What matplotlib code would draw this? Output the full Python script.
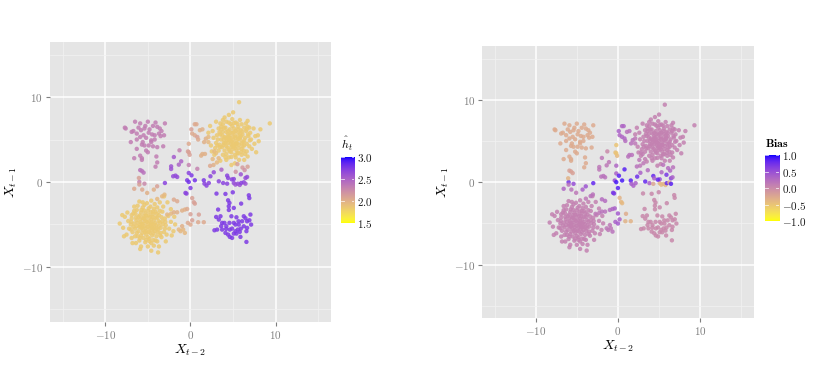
import numpy as np
import matplotlib
matplotlib.use("Agg")
import matplotlib.pyplot as plt
from matplotlib.colors import ListedColormap, Normalize

plt.rcParams['mathtext.fontset'] = 'cm'
plt.rcParams['font.family'] = ['cmr10', 'DejaVu Serif']
plt.rcParams['axes.unicode_minus'] = False

# ---------------- data ----------------
bottom_left = [
    (-5.0,-5.0),(-4.6,-4.8),(-5.4,-5.2),(-4.8,-5.5),(-5.3,-4.6),(-4.5,-5.3),(-5.7,-4.9),(-4.3,-4.5),
    (-5.1,-4.2),(-4.7,-4.1),(-5.6,-5.6),(-4.9,-5.9),(-4.2,-5.8),(-5.9,-4.4),(-5.5,-4.0),(-4.0,-5.1),
    (-3.9,-4.2),(-6.0,-5.3),(-6.2,-4.8),(-5.2,-6.2),(-4.5,-6.3),(-3.8,-5.6),(-4.4,-3.8),(-5.3,-3.7),
    (-6.1,-5.8),(-5.8,-6.3),(-3.6,-4.8),(-6.4,-4.2),(-4.1,-3.5),(-5.0,-3.4),(-3.5,-5.4),(-6.5,-5.5),
    (-4.8,-6.7),(-5.5,-6.6),(-4.0,-6.4),(-5.8,-3.6),(-3.7,-3.9),(-6.6,-4.9),(-4.6,-4.4),(-5.2,-5.8),
    (-4.3,-5.0),(-5.6,-4.3),(-4.9,-3.9),(-5.9,-5.1),(-5.1,-4.7),(-4.4,-5.5),(-5.7,-5.3),(-4.7,-5.1),
    (-4.85,-4.6),(-5.25,-5.45),(-4.55,-5.65),(-5.45,-4.35),(-4.15,-4.85),(-5.85,-4.75),(-5.0,-6.5),
    (-4.35,-6.05),(-5.65,-6.0),(-6.3,-5.2),(-6.1,-4.1),(-5.2,-3.95),(-4.45,-4.1),(-3.75,-4.6),
    (-3.85,-5.95),(-4.1,-4.2),(-5.45,-3.35),(-4.65,-3.55),(-3.95,-3.75),(-3.4,-4.15),(-3.25,-5.0),
    (-3.55,-6.3),(-4.35,-6.85),(-5.2,-6.85),(-5.9,-6.6),(-6.7,-5.25),(-6.95,-4.7),(-6.45,-3.75),
    (-5.75,-3.3),(-4.3,-3.15),(-3.6,-3.4),(-2.95,-4.7),(-3.0,-5.5),(-4.8,-7.0),(-6.2,-6.4),
    (-7.0,-5.6),(-6.9,-3.9),(-4.9,-3.1),(-5.0,-5.3),(-4.55,-4.95),(-5.5,-4.9),(-4.25,-5.4),
    (-5.75,-5.45),(-4.75,-6.0),(-5.35,-5.9),(-4.0,-5.5),(-6.35,-4.5),(-5.95,-3.95),(-3.7,-5.2),
    (-4.4,-3.5),
    (-7.0,-5.0),(-6.9,-4.3),(-6.8,-5.9),(-6.7,-3.7),(-6.3,-3.3),(-5.6,-3.0),(-4.7,-2.9),(-3.9,-3.0),
    (-3.3,-3.5),(-3.0,-4.3),(-2.9,-5.1),(-3.1,-5.9),(-3.4,-6.5),(-3.9,-7.0),(-4.6,-7.2),(-5.3,-7.1),
    (-6.0,-6.9),(-6.5,-6.4),(-7.2,-5.5),(-7.3,-4.6),(-6.2,-2.8),(-4.2,-2.6),(-3.2,-2.9),(-2.6,-4.0),
    (-2.5,-5.5),(-2.8,-6.2),(-4.3,-7.5),(-5.0,-7.6),(-5.8,-7.6),(-6.9,-6.6),(-7.5,-6.2),(-7.7,-4.1),
    (-7.4,-3.6),(-5.1,-2.5),(-3.6,-2.4),(-2.3,-4.7),(-2.2,-6.3),(-3.7,-7.6),(-6.4,-7.2),(-6.0,-2.3),
    (-8.3,-4.9),(-7.8,-6.4),(-5.9,-7.9),(-4.6,-8.1),(-3.8,-8.3),(-2.9,-7.0),(-2.0,-5.8),(-1.8,-5.0),
    (-1.9,-4.1),(-2.3,-3.2),(-2.7,-2.4),(-4.6,-2.2),(-5.6,-2.4),(-6.6,-2.9),(-7.9,-5.4),(-3.1,-1.7),
    (-6.8,-7.2),(-8.0,-3.9),(-6.3,-6.0),(-3.3,-4.6),(-4.1,-6.9),(-6.6,-3.4),(-3.5,-6.0),(-5.4,-2.7),
]
top_right = [
    (5.0,5.0),(4.6,5.2),(5.4,4.8),(5.2,5.5),(4.7,4.5),(5.5,5.3),(4.3,4.9),(5.1,4.3),(4.9,5.8),(5.8,5.0),
    (4.4,5.6),(5.7,4.4),(4.2,4.2),(5.3,6.0),(4.0,5.3),(6.1,5.6),(4.6,6.2),(5.9,6.1),(3.9,4.6),(6.2,4.7),
    (4.5,3.8),(5.4,3.7),(3.8,5.9),(6.4,5.2),(4.9,6.6),(5.6,6.5),(3.6,5.0),(6.0,3.9),(4.1,6.4),(4.8,3.5),
    (6.5,6.0),(3.7,4.1),(5.2,4.0),(4.4,4.6),(5.6,5.8),(4.8,4.1),(6.3,4.3),(5.1,6.3),(4.0,3.7),(3.5,5.6),
    (5.3,4.5),(4.5,5.0),(5.9,5.4),(4.2,5.9),(5.0,4.6),(6.0,4.6),
    (4.85,4.75),(5.25,5.2),(4.55,5.45),(5.45,4.55),(4.15,5.15),(5.85,5.25),(5.0,3.9),(4.35,4.05),
    (5.65,4.0),(6.3,4.9),(6.05,5.95),(5.1,5.9),(4.4,6.0),(3.75,5.45),(3.85,4.35),(4.6,3.6),(5.5,3.35),
    (6.25,3.7),(6.6,4.5),(6.75,5.6),(6.3,6.4),(5.5,6.85),(4.7,6.85),(3.95,6.35),(3.4,5.85),(3.2,5.0),
    (3.45,4.1),(4.2,3.3),(5.2,3.2),(5.95,3.55),(6.95,4.9),(6.6,6.2),(5.1,6.95),(4.2,7.1),(3.6,6.5),
    (3.15,4.3),(4.8,2.95),(6.4,3.3),(5.0,5.35),(4.65,4.95),(5.6,5.1),(4.4,5.3),(5.3,4.25),(4.7,5.8),
    (5.8,5.65),(4.1,4.6),(6.1,4.2),(5.55,6.2),(3.9,5.0),(4.9,4.3),
    (3.0,4.6),(3.1,5.5),(3.3,6.3),(3.8,6.8),(4.5,7.0),(5.3,7.0),(6.0,6.8),(6.7,6.5),(7.0,5.8),(7.1,5.0),
    (6.9,4.2),(6.6,3.6),(6.0,3.2),(5.3,2.9),(4.5,2.9),(3.8,3.2),(3.3,3.7),(2.7,5.2),(2.9,4.0),(3.5,6.9),
    (4.9,7.4),(5.8,7.3),(6.5,6.9),(7.4,6.3),(7.5,4.5),(7.2,3.9),(6.7,3.0),(5.7,2.6),(4.2,2.6),(2.6,6.0),
    (3.0,7.1),(7.6,5.4),(4.0,7.6),(6.3,2.6),(2.8,3.2),(3.4,4.4),(6.8,5.4),(4.1,2.9),(5.6,3.4),(3.6,6.2),
    (5.7,9.4),(5.0,8.2),(4.5,7.9),(3.8,7.3),(9.3,6.9),(8.2,6.2),(7.9,5.5),(6.9,6.4),(2.4,4.3),(2.3,6.6),
    (2.1,5.8),(3.5,2.5),(8.0,4.8),(4.8,2.0),(5.2,2.2),(2.5,3.6),(6.7,7.2),(7.7,3.5),
]
top_left = [
    (-7.7,6.4),(-7.6,6.3),(-6.5,7.1),(-5.9,6.9),(-5.0,7.1),(-4.1,7.0),(-3.0,6.9),(-6.9,5.9),(-6.3,5.7),
    (-5.8,6.1),(-5.4,6.3),(-4.8,6.2),(-4.5,5.6),(-4.2,5.5),(-3.7,5.7),(-3.4,6.0),(-3.9,6.5),(-6.3,5.0),
    (-5.9,5.3),(-5.6,4.7),(-5.2,5.2),(-4.6,4.9),(-4.2,5.0),(-3.5,5.4),(-3.1,5.5),(-7.0,4.7),(-5.7,4.4),
    (-5.4,4.3),(-4.9,4.3),(-4.4,4.2),(-6.3,3.9),(-5.2,3.7),(-5.0,3.5),(-3.9,4.1),(-6.6,2.8),(-5.9,3.1),
    (-5.7,2.8),(-3.9,2.3),(-4.1,1.8),(-5.7,2.6),(-4.0,3.0),(-3.2,4.2),(-4.6,4.7),(-5.5,5.5),(-6.1,6.4),
    (-4.9,5.8),(-3.6,6.3),(-6.7,6.0),(-5.3,6.6),(-4.4,6.6),
]
bottom_right = [
    (3.05,-1.37),(4.10,-1.41),(4.96,-1.22),(6.84,-1.57),(3.24,-3.25),(4.41,-2.16),(4.57,-2.47),
    (4.49,-2.86),(5.08,-3.06),(5.94,-2.55),(4.80,-4.04),(3.01,-4.12),(3.52,-4.04),(3.71,-4.82),
    (3.13,-5.61),(2.81,-5.69),(3.98,-4.82),(4.18,-5.53),(4.61,-5.61),(4.88,-5.49),(5.27,-5.02),
    (5.39,-4.16),(6.25,-4.04),(6.45,-4.27),(6.64,-4.63),(7.03,-3.84),(7.11,-5.02),(6.64,-5.41),
    (6.56,-5.80),(6.05,-4.63),(5.55,-5.61),(5.08,-6.08),(4.88,-6.59),(4.61,-6.47),(4.41,-6.20),
    (5.39,-6.08),(5.86,-6.47),(5.78,-5.88),(6.25,-5.22),(6.91,-4.51),(3.32,-4.43),(4.57,-4.82),
    (5.08,-4.82),(5.66,-5.02),(5.27,-5.80),(3.71,-5.61),(4.10,-6.00),(6.56,-7.06),(5.63,-4.63),
    (4.2,-5.2),(5.9,-5.5),(6.9,-1.9),(4.5,-3.3),(3.6,-5.2),
]
h_bottom_left, h_top_right, h_top_left, h_bottom_right = 1.84, 1.84, 2.33, 2.75
b_bottom_left, b_top_right, b_top_left, b_bottom_right = 0.08, 0.08, -0.28, 0.02

# scattered points between the clusters: x, y, h_hat, bias
between = [
    (0.5,6.8,2.05,0.3),(0.7,6.8,2.05,0.3),(0.1,6.2,2.1,0.35),(0.2,5.7,2.05,0.3),(0.5,5.5,2.05,0.3),
    (0.8,5.3,2.1,0.3),(0.9,5.0,2.05,0.25),(1.1,6.1,2.0,0.2),(1.4,6.2,2.0,0.2),(1.8,5.1,2.0,0.2),
    (2.1,5.3,1.95,0.15),(2.1,4.7,1.95,0.15),(1.6,4.7,2.0,0.2),(-0.2,4.5,2.05,-0.5),(-0.3,3.6,2.1,-0.45),
    (-0.1,3.2,2.1,-0.4),(-0.2,3.5,2.1,-0.5),(1.4,3.3,2.0,0.2),(1.7,3.3,2.0,0.2),(1.25,3.1,2.0,0.2),
    (0.8,1.55,2.3,0.85),(2.7,2.0,2.0,0.15),(3.1,2.3,1.95,0.15),(2.3,1.9,2.05,0.2),(3.3,2.8,1.95,0.1),
    (2.6,2.7,1.95,0.15),(2.8,3.6,1.95,0.1),(3.0,3.4,1.9,0.1),(5.5,2.1,2.1,0.2),(6.1,1.7,2.15,0.25),
    (6.35,1.4,2.2,0.3),(6.7,1.8,2.1,0.2),(5.3,1.2,2.2,0.3),
    (-1.95,2.94,2.55,0.15),(-2.27,1.84,2.6,0.15),(-2.27,1.53,2.6,0.15),(-2.03,0.67,2.65,0.2),
    (-1.76,0.75,2.65,0.2),(-1.56,0.59,2.65,0.2),(-3.0,-0.12,2.7,0.8),(-1.37,2.04,2.5,0.15),
    (-1.29,3.73,2.3,0.0),(-0.2,1.06,2.7,0.35),(0.12,0.78,2.75,0.85),(-0.39,0.2,2.75,0.5),
    (-0.2,0.0,2.8,0.9),(0.0,-0.71,2.75,0.85),(0.51,0.2,2.8,0.9),(-0.59,-1.29,2.7,0.7),
    (-0.47,-1.37,2.7,0.7),(1.56,0.2,2.75,0.85),(1.64,-0.2,2.7,0.4),(1.88,-0.43,2.7,0.35),
    (2.15,-0.12,2.7,0.35),(2.34,0.67,2.7,0.75),(2.73,1.14,2.65,0.35),(3.63,1.45,2.5,0.25),
    (3.32,0.08,2.7,0.8),(3.83,-0.12,2.7,0.35),(4.30,0.75,2.7,0.8),(4.41,0.47,2.7,0.35),
    (-1.09,2.43,2.5,0.15),(-0.2,2.0,2.3,0.3),
    (4.3,-0.2,2.7,-0.25),(5.08,-0.12,2.65,-0.35),(5.27,-0.31,2.6,-0.4),(5.55,-0.2,2.65,-0.35),
    (5.78,-0.35,2.6,-0.4),(5.94,-0.12,2.7,0.8),(6.25,-0.04,2.7,-0.3),(6.45,-0.2,2.6,0.85),
    (5.08,0.35,2.7,0.5),(6.45,0.47,2.65,0.6),(6.64,0.59,2.65,0.35),(5.9,0.9,2.6,0.7),(4.85,0.3,2.7,0.8),
    (-6.0,0.0,2.3,0.75),(-5.4,-0.2,2.25,0.5),(-6.6,-0.8,2.05,0.3),(-6.05,0.47,2.1,-0.35),
    (-5.9,1.4,2.4,-0.2),(-5.7,1.3,2.4,-0.2),(-5.5,1.1,2.4,-0.2),(-5.66,-0.9,2.05,0.2),
    (-5.08,-1.29,2.0,0.15),(-4.3,-0.9,2.0,0.35),(-3.91,-0.51,2.1,0.45),(-3.05,-1.49,1.95,0.2),
    (-3.32,-1.69,1.95,0.2),(-3.9,-2.0,1.95,0.15),(-6.0,-0.3,2.1,0.2),
    (-1.95,-2.08,2.05,0.25),(-1.56,-2.27,2.05,0.25),(-2.73,-3.84,1.95,0.15),(-2.27,-3.73,1.95,0.15),
    (-1.95,-3.57,2.0,0.2),(-1.56,-3.57,2.0,0.2),(-0.98,-3.37,2.0,0.25),(-0.66,-3.25,2.0,0.3),
    (-0.39,-3.18,2.05,0.35),(-1.37,-5.6,1.95,0.15),(-1.17,-5.8,1.95,0.15),(-0.86,-5.6,1.95,0.15),
    (-0.66,-6.0,1.95,0.2),(-0.98,-5.2,2.0,0.15),(-0.31,-4.82,2.05,0.35),(0.0,-5.02,2.05,0.4),
    (0.2,-4.51,2.1,0.35),(0.0,-3.8,2.1,0.4),(0.39,-2.39,2.1,-0.4),(0.51,-2.55,2.1,-0.4),
    (0.2,-1.9,2.1,-0.35),(0.98,-3.84,2.1,-0.3),(0.9,-4.74,2.05,-0.35),(1.56,-4.74,2.05,-0.35),
]

# ---------------- assemble ----------------
groups = [(bottom_left, h_bottom_left, b_bottom_left), (top_right, h_top_right, b_top_right),
          (top_left, h_top_left, b_top_left), (bottom_right, h_bottom_right, b_bottom_right)]
xs, ys, hs, bs = [], [], [], []
for pts, hv, bv in groups:
    for (px, py) in pts:
        xs.append(px); ys.append(py); hs.append(hv); bs.append(bv)
for (px, py, hv, bv) in between:
    xs.append(px); ys.append(py); hs.append(hv); bs.append(bv)
xs, ys, hs, bs = map(np.array, (xs, ys, hs, bs))

# ---------------- Lab gradient yellow -> blue (ggplot style) ----------------
WHITE = np.array([0.95047, 1.0, 1.08883])
M = np.array([[0.4124, 0.3576, 0.1805], [0.2126, 0.7152, 0.0722], [0.0193, 0.1192, 0.9505]])
Minv = np.linalg.inv(M)

def rgb2lab(c):
    c = np.asarray(c, float)
    lin = np.where(c <= 0.04045, c / 12.92, ((c + 0.055) / 1.055) ** 2.4)
    t = (M @ lin) / WHITE
    f = np.where(t > 0.008856, np.cbrt(t), 7.787 * t + 16 / 116)
    return np.array([116 * f[1] - 16, 500 * (f[0] - f[1]), 200 * (f[1] - f[2])])

def lab2rgb(lab):
    L, a, b = lab
    fy = (L + 16) / 116
    fx = fy + a / 500
    fz = fy - b / 200
    f = np.array([fx, fy, fz])
    t = np.where(f ** 3 > 0.008856, f ** 3, (f - 16 / 116) / 7.787) * WHITE
    lin = np.clip(Minv @ t, 0, 1)
    c = np.where(lin <= 0.0031308, 12.92 * lin, 1.055 * lin ** (1 / 2.4) - 0.055)
    return np.clip(c, 0, 1)

lab_lo, lab_hi = rgb2lab([1, 1, 0]), rgb2lab([0, 0, 1])
cmap = ListedColormap([lab2rgb(lab_lo + (lab_hi - lab_lo) * t) for t in np.linspace(0, 1, 256)])

# ---------------- figure ----------------
fig = plt.figure(figsize=(8.30, 3.88), dpi=100)
BG = '#E5E5E5'
GREY = '#7F7F7F'

def style_axes(ax):
    ax.set_facecolor(BG)
    for s in ax.spines.values():
        s.set_visible(False)
    lim = 16.5
    ax.set_xlim(-lim, lim); ax.set_ylim(-lim, lim)
    ticks = [-10, 0, 10]
    ax.set_xticks(ticks); ax.set_yticks(ticks)
    labs = [r'$-10$', r'$0$', r'$10$']
    ax.set_xticklabels(labs); ax.set_yticklabels(labs)
    ax.set_xticks([-15, -5, 5, 15], minor=True); ax.set_yticks([-15, -5, 5, 15], minor=True)
    ax.tick_params(which='major', length=3, width=0.8, color=GREY, labelcolor=GREY, labelsize=8, pad=2)
    ax.tick_params(which='minor', length=0)
    ax.grid(which='major', color='white', linewidth=1.1)
    ax.grid(which='minor', color='#F2F2F2', linewidth=0.5)
    ax.set_axisbelow(True)
    ax.set_xlabel(r'$X_{t-2}$', fontsize=10, labelpad=1)
    ax.set_ylabel(r'$X_{t-1}$', fontsize=10, labelpad=2)

def colorbar(cax, norm, ticks, ticklabels, title):
    grad = np.linspace(0, 1, 256).reshape(-1, 1)
    cax.imshow(grad, aspect='auto', cmap=cmap, origin='lower', extent=(0, 1, norm.vmin, norm.vmax))
    cax.set_xlim(0, 1); cax.set_ylim(norm.vmin, norm.vmax)
    for s in cax.spines.values():
        s.set_visible(False)
    cax.set_xticks([])
    cax.yaxis.tick_right()
    cax.set_yticks(ticks)
    cax.set_yticklabels(ticklabels)
    cax.tick_params(axis='y', length=0, labelsize=8, labelcolor='#1A1A1A', pad=2)
    for t in ticks:
        cax.plot([0, 0.2], [t, t], color='white', lw=0.6, alpha=0.8)
        cax.plot([0.8, 1], [t, t], color='white', lw=0.6, alpha=0.8)
    cax.set_title(title, fontsize=8.5, loc='left', pad=6)

# left panel
ax1 = fig.add_axes([0.060, 0.170, 0.339, 0.722])
style_axes(ax1)
norm1 = Normalize(1.5, 3.0)
ax1.scatter(xs, ys, c=hs, cmap=cmap, norm=norm1, s=10, alpha=0.85, linewidths=0)
cax1 = fig.add_axes([0.411, 0.425, 0.0157, 0.170])
colorbar(cax1, norm1, [1.5, 2.0, 2.5, 3.0], [r'$1.5$', r'$2.0$', r'$2.5$', r'$3.0$'], r'$\hat{h}_t$')

# right panel
ax2 = fig.add_axes([0.581, 0.180, 0.327, 0.701])
style_axes(ax2)
norm2 = Normalize(-1.0, 1.0)
ax2.scatter(xs, ys, c=bs, cmap=cmap, norm=norm2, s=10, alpha=0.85, linewidths=0)
cax2 = fig.add_axes([0.9217, 0.4304, 0.0169, 0.170])
colorbar(cax2, norm2, [-1.0, -0.5, 0.0, 0.5, 1.0],
         [r'$-1.0$', r'$-0.5$', r'$0.0$', r'$0.5$', r'$1.0$'], r'$\mathbf{Bias}$')

fig.savefig('out.png', dpi=100, facecolor='white')
